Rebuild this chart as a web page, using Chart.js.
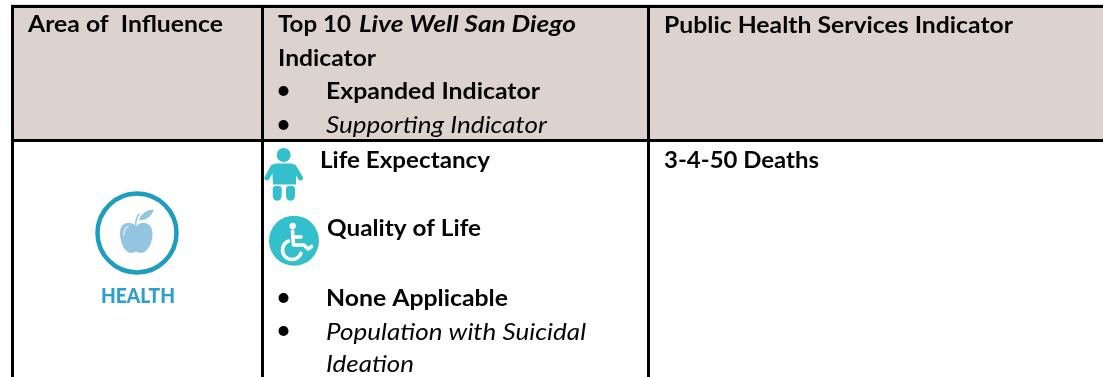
<!DOCTYPE html>
<html><head><meta charset="utf-8">
<script src="https://cdn.jsdelivr.net/npm/chart.js@4"></script>
<style>html,body{margin:0;padding:0;background:#fff}canvas{display:block}</style>
</head><body><canvas id="c" width="1103" height="377"></canvas>
<script>
const columnRules = [12.5, 262.5, 648.5];
const rowRules = [6.5, 140.5];
const headerBand = [{x:12,y:7},{x:1103,y:7}];
const topEdge = [{x:11,y:4.5},{x:1103,y:4.5}];
const bullets = [{x:283.5,y:91},{x:283.5,y:125},{x:283.5,y:298},{x:283.5,y:331}];
const headerArea = "Area of  Influence";
const headerTop = ["Top 10 ", "Live Well San Diego", "Indicator"];
const headerExpanded = "Expanded Indicator";
const headerSupporting = "Supporting Indicator";
const headerPublic = "Public Health Services Indicator";
const rowArea = "HEALTH";
const rowLife = "Life Expectancy";
const rowQuality = "Quality of Life";
const rowNone = "None Applicable";
const rowPop = ["Population with Suicidal", "Ideation"];
const rowDeaths = "3-4-50 Deaths";

const FONT='Lato', SIZE=23;
const tablePlugin = {
  id:'tableText',
  afterDraw(chart){
    const c=chart.ctx, X=v=>chart.scales.x.getPixelForValue(v), Y=v=>chart.scales.y.getPixelForValue(v);
    function text(s,x,y,style,end,color,size){
      c.save();
      c.font=`${style} ${size||SIZE}px ${FONT}`;
      c.fillStyle=color||'#050505';
      c.textBaseline='alphabetic';
      const k=(end-x)/c.measureText(s).width;
      c.translate(X(x),Y(y)); c.scale(k,1);
      c.fillText(s,0,0);
      c.restore();
    }
    text(headerArea,28,32,'bold',223);
    text(headerTop[0].trim(),278,32,'bold',351);
    text(headerTop[1],359,32,'italic bold',576);
    text(headerTop[2],278,66,'bold',376);
    text(headerExpanded,326,99,'bold',540);
    text(headerSupporting,326,133,'italic',547);
    text(headerPublic,664,33,'bold',1013);
    text(rowLife,320,168,'bold',490);
    text(rowQuality,327,236,'bold',481);
    text(rowNone,326,306,'bold',508);
    text(rowPop[0],326,340,'italic',586);
    text(rowPop[1],326,372,'italic',414);
    text(rowDeaths,664,168,'bold',819);
    text(rowArea,101,303,'900',175,'#2a9fd0',20);

    // baby icon
    const teal='#33c0cc';
    c.fillStyle=teal; c.strokeStyle=teal; c.lineCap='round'; c.lineJoin='round';
    c.beginPath(); c.arc(X(283.7),Y(155),7,0,7); c.fill();
    c.beginPath();
    c.moveTo(X(275),Y(163.5)); c.lineTo(X(292),Y(163.5)); c.lineTo(X(296),Y(166));
    c.lineTo(X(296),Y(184.5)); c.lineTo(X(273),Y(184.5)); c.lineTo(X(272),Y(166)); c.closePath(); c.fill();
    c.lineWidth=5;
    c.beginPath(); c.moveTo(X(273),Y(167)); c.lineTo(X(267),Y(178)); c.stroke();
    c.beginPath(); c.moveTo(X(294),Y(167)); c.lineTo(X(300.5),Y(178)); c.stroke();
    // feet
    [[272.7,186],[286,186]].forEach(([x,y])=>{
      c.beginPath(); c.roundRect(X(x),Y(y),9,11,3); c.fill();
      c.beginPath(); c.arc(X(x+(x<280?4.5:4.5)),Y(y+10.5),4.3,0,7); c.fill();
    });
    // wheelchair disc
    c.beginPath(); c.arc(X(294),Y(240.7),25,0,7); c.fill();
    c.strokeStyle='#fff'; c.fillStyle='#fff'; c.lineWidth=3.6;
    c.beginPath(); c.arc(X(292.7),Y(226),3.2,0,7); c.fill();
    c.beginPath(); c.moveTo(X(292.5),Y(231)); c.lineTo(X(293.5),Y(245)); c.lineTo(X(304),Y(245));
    c.lineTo(X(308),Y(249)); c.lineTo(X(311.5),Y(246.5)); c.stroke();
    c.beginPath(); c.moveTo(X(293),Y(237)); c.lineTo(X(301),Y(237)); c.stroke();
    c.beginPath(); c.arc(X(292),Y(250),9.5,0.35,Math.PI*1.38); c.stroke();

    // apple
    c.fillStyle='#93c5e0';
    c.beginPath();
    c.moveTo(X(136),Y(226));
    c.bezierCurveTo(X(142),Y(220),X(152),Y(222),X(152.5),Y(233));
    c.bezierCurveTo(X(153),Y(243),X(147),Y(253),X(141),Y(253));
    c.bezierCurveTo(X(138),Y(253),X(137),Y(251.5),X(136),Y(251.5));
    c.bezierCurveTo(X(135),Y(251.5),X(134),Y(253),X(131),Y(253));
    c.bezierCurveTo(X(125),Y(253),X(120),Y(243),X(120),Y(233));
    c.bezierCurveTo(X(120),Y(222),X(130),Y(220),X(136),Y(226));
    c.fill();
    c.strokeStyle='#93c5e0'; c.lineWidth=1.5;
    c.beginPath(); c.moveTo(X(135.5),Y(225)); c.quadraticCurveTo(X(136),Y(218),X(139),Y(214)); c.stroke();
    c.beginPath(); c.moveTo(X(139),Y(220));
    c.quadraticCurveTo(X(142),Y(210),X(154),Y(209.5));
    c.quadraticCurveTo(X(150),Y(221),X(139),Y(220)); c.fill();
    c.strokeStyle='#d8eaf5'; c.lineWidth=1.6;
    c.beginPath(); c.moveTo(X(124),Y(235)); c.quadraticCurveTo(X(124),Y(228),X(128),Y(226.5)); c.stroke();
  }
};

new Chart(document.getElementById('c'),{
  type:'scatter',
  data:{datasets:[
    {data:bullets,pointRadius:5,pointBackgroundColor:'#000',pointBorderWidth:0,showLine:false},
    {data:[{x:137,y:233}],pointRadius:39.5,pointBackgroundColor:'#fff',pointBorderColor:'#1e9ebf',pointBorderWidth:4.5,showLine:false},
    {data:topEdge,showLine:true,pointRadius:0,borderWidth:1,borderColor:'#dedcda',clip:false},
    {data:headerBand,showLine:true,pointRadius:0,borderWidth:0,backgroundColor:'#dcd3cf',fill:{value:140}}
  ]},
  options:{
    responsive:false,animation:false,
    layout:{autoPadding:false,padding:{top:5,left:11,right:0,bottom:0}},
    plugins:{legend:{display:false},tooltip:{enabled:false},title:{display:false}},
    events:[],
    scales:{
      x:{type:'linear',min:11,max:1103,border:{display:false},
        afterBuildTicks:s=>{s.ticks=columnRules.map(v=>({value:v}))},
        ticks:{display:false,autoSkip:false},
        grid:{color:'#000',lineWidth:3,drawTicks:false,z:1}},
      y:{type:'linear',reverse:true,min:5,max:377,border:{display:false},
        afterBuildTicks:s=>{s.ticks=rowRules.map(v=>({value:v}))},
        ticks:{display:false,autoSkip:false},
        grid:{color:'#000',lineWidth:3,drawTicks:false,z:1}}
    }
  },
  plugins:[tablePlugin]
});
</script></body></html>
